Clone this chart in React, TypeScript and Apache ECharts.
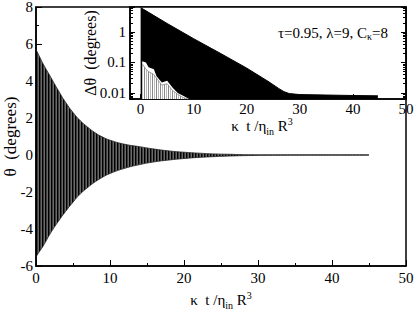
import React, { useEffect, useRef } from 'react';
import * as echarts from 'echarts';

// ---- main plot: envelope of the damped oscillation θ(t) ----
const mainX = [0, 0.5, 1, 2, 3, 4, 5, 6, 7, 8, 9, 10, 12, 14, 16, 18, 20, 22, 24, 26, 28, 32, 38, 45];
const mainUpper = [5.7, 5.3, 4.9, 4.2, 3.5, 2.85, 2.3, 1.85, 1.5, 1.2, 0.97, 0.8, 0.58, 0.45, 0.32, 0.22, 0.15, 0.1, 0.06, 0.04, 0.02, 0.01, 0.008, 0.008];
const mainLower = [-5.5, -5.2, -4.9, -4.2, -3.6, -3.05, -2.55, -2.1, -1.75, -1.45, -1.2, -1.0, -0.72, -0.52, -0.37, -0.27, -0.19, -0.13, -0.09, -0.06, -0.035, -0.015, -0.008, -0.008];

// ---- inset: Δθ on log scale ----
const insetX = [0, 5, 10, 15, 20, 24, 26, 27, 28, 30, 35, 40, 44.7];
const insetUpper = [6.3, 1.9, 0.6, 0.2, 0.065, 0.024, 0.014, 0.011, 0.0095, 0.0088, 0.0085, 0.0082, 0.008];
const insetLowX = [0.3, 1, 1.5, 2.5, 3, 4, 5, 6, 7, 8, 9];
const insetLower = [0.11, 0.1, 0.07, 0.06, 0.035, 0.022, 0.025, 0.015, 0.01, 0.008, 0.0065];
const insetGray = [0.09, 0.06, 0.05, 0.04, 0.03, 0.018, 0.02, 0.012, 0.009, 0.007, 0.0063];

const mainXTicks = { min: 0, max: 50, interval: 10 };
const mainYTicks = { min: -6, max: 8, interval: 2 };
const insetXRange = { min: -2, max: 50 };
const insetYRange = { min: 0.0063, max: 6.6 };

const FONT = 'Times New Roman';

function stripes(colors: string[]) {
  const c = document.createElement('canvas');
  c.width = colors.length;
  c.height = 2;
  const ctx = c.getContext('2d')!;
  colors.forEach((col, i) => {
    ctx.fillStyle = col;
    ctx.fillRect(i, 0, 1, 2);
  });
  return { image: c, repeat: 'repeat', imageWidth: colors.length, imageHeight: 2 } as any;
}

const zip = (xs: number[], ys: number[]) => xs.map((x, i) => [x, ys[i]]);

const nameRich = {
  a: { fontFamily: FONT, fontSize: 15, color: '#000', lineHeight: 20 },
  s: { fontFamily: FONT, fontSize: 10, color: '#000', lineHeight: 10, verticalAlign: 'bottom' },
  p: { fontFamily: FONT, fontSize: 10, color: '#000', lineHeight: 10, verticalAlign: 'top' },
};
const xName = '{a|κ  t /η}{s|in}{a| R}{p|3}';

export default function App() {
  const ref = useRef<HTMLDivElement>(null);
  useEffect(() => {
    if (!ref.current) return;
    const chart = echarts.init(ref.current, undefined, { renderer: 'svg' });
    const band = stripes(['#000', '#3a3a3a', '#6a6a6a']);
    const grayBand = stripes(['#888', '#fff', '#bbb', '#fff']);
    const axisLine = { show: true, onZero: false, lineStyle: { color: '#000', width: 1.5 } };
    const label = { color: '#000', fontFamily: FONT, fontSize: 15 };
    chart.setOption({
      animation: false,
      textStyle: { fontFamily: FONT },
      grid: [
        { left: 36, right: 9, top: 7, bottom: 44, outerBoundsMode: 'none', containLabel: false, show: true, borderColor: '#000', borderWidth: 1.5, backgroundColor: 'transparent' },
        { left: 130, right: 9, top: 7, bottom: 211, outerBoundsMode: 'none', containLabel: false, show: true, borderColor: '#000', borderWidth: 1.5, backgroundColor: '#fff' },
      ],
      xAxis: [
        {
          gridIndex: 0, type: 'value', ...mainXTicks,
          axisLine, axisTick: { inside: true, length: 6, lineStyle: { color: '#000' } },
          minorTick: { show: true, splitNumber: 2, length: 3, lineStyle: { color: '#000' } },
          splitLine: { show: false },
          axisLabel: { ...label, margin: 4 },
          name: xName, nameLocation: 'middle', nameGap: 24, nameMoveOverlap: false, nameTextStyle: { rich: nameRich },
        },
        {
          gridIndex: 1, type: 'value', ...insetXRange, splitNumber: 5,
          axisLine, axisTick: { inside: true, length: 5, lineStyle: { color: '#000' } },
          splitLine: { show: false },
          axisLabel: { ...label, margin: 2, formatter: (v: number) => (v % 10 === 0 ? String(v) : '') },
          name: xName, nameLocation: 'middle', nameGap: 17, nameMoveOverlap: false,
          nameTextStyle: { rich: nameRich, padding: [0, 12, 0, 0] },
        },
      ],
      yAxis: [
        {
          gridIndex: 0, type: 'value', ...mainYTicks,
          axisLine, axisTick: { inside: true, length: 6, lineStyle: { color: '#000' } },
          minorTick: { show: true, splitNumber: 2, length: 3, lineStyle: { color: '#000' } },
          splitLine: { show: false },
          axisLabel: { ...label, margin: 3 },
          name: 'θ  (degrees)', nameLocation: 'middle', nameGap: 17, nameMoveOverlap: false,
          nameTextStyle: { color: '#000', fontFamily: FONT, fontSize: 17 },
        },
        {
          gridIndex: 1, type: 'log', ...insetYRange,
          axisLine, axisTick: { inside: true, length: 5, lineStyle: { color: '#000' } },
          minorTick: { show: true, splitNumber: 9, length: 3, lineStyle: { color: '#000' } },
          splitLine: { show: false },
          axisLabel: { ...label, margin: 4, showMinLabel: false, showMaxLabel: false },
          name: 'Δθ  (degrees)', nameLocation: 'middle', nameGap: 32, nameMoveOverlap: false,
          nameTextStyle: { color: '#000', fontFamily: FONT, fontSize: 16 },
        },
        {
          gridIndex: 1, type: 'log', position: 'right', ...insetYRange,
          axisLine, axisTick: { inside: true, length: 5, lineStyle: { color: '#000' } },
          minorTick: { show: true, splitNumber: 9, length: 3, lineStyle: { color: '#000' } },
          splitLine: { show: false },
          axisLabel: { show: false },
        },
      ],
      graphic: [
        {
          type: 'text', right: 27, top: 25,
          style: {
            text: '{a|τ=0.95, λ=9, C}{s|κ}{a|=8}',
            rich: {
              a: { fontFamily: FONT, fontSize: 15, fill: '#000', lineHeight: 18 },
              s: { fontFamily: FONT, fontSize: 10, fill: '#000', lineHeight: 9, verticalAlign: 'bottom' },
            },
          },
        },
      ],
      series: [
        {
          type: 'line', xAxisIndex: 0, yAxisIndex: 0, data: zip(mainX, mainUpper), showSymbol: false, smooth: true,
          lineStyle: { color: '#222', width: 0.8 }, areaStyle: { color: band, opacity: 1, origin: 'auto' },
        },
        {
          type: 'line', xAxisIndex: 0, yAxisIndex: 0, data: zip(mainX, mainLower), showSymbol: false, smooth: true,
          lineStyle: { color: '#222', width: 0.8 }, areaStyle: { color: band, opacity: 1, origin: 'auto' },
        },
        {
          type: 'line', xAxisIndex: 1, yAxisIndex: 1, data: zip(insetX, insetUpper), showSymbol: false,
          lineStyle: { color: '#000', width: 1 }, areaStyle: { color: '#000', opacity: 1, origin: 'start' },
        },
        {
          type: 'line', xAxisIndex: 1, yAxisIndex: 1, data: zip(insetLowX, insetLower), showSymbol: false,
          lineStyle: { width: 0 }, areaStyle: { color: '#fff', opacity: 1, origin: 'start' },
        },
        {
          type: 'line', xAxisIndex: 1, yAxisIndex: 1, data: zip(insetLowX, insetGray), showSymbol: false,
          lineStyle: { color: '#888', width: 0.8 }, areaStyle: { color: grayBand, opacity: 1, origin: 'start' },
        },
      ],
    });
    return () => chart.dispose();
  }, []);
  return <div ref={ref} style={{ position: 'fixed', left: 0, top: 0, width: 415, height: 310, background: '#fff' }} />;
}
